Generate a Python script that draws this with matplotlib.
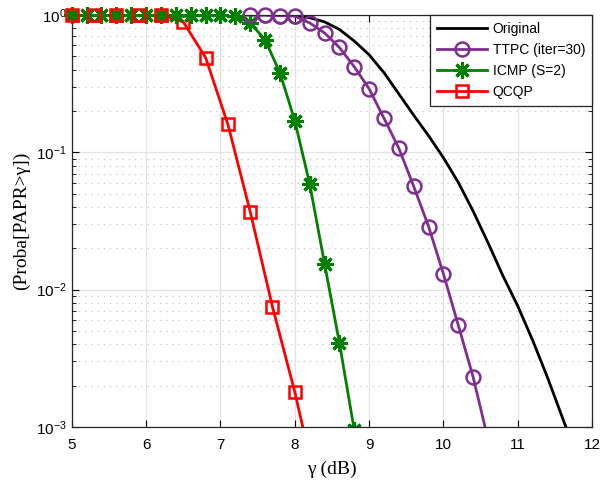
import matplotlib.pyplot as plt
import numpy as np
from matplotlib.ticker import LogLocator, NullLocator, NullFormatter

# data
x_orig = [5.0, 5.5, 6.0, 6.5, 7.0, 7.5, 7.6, 7.8, 8.0, 8.2, 8.4, 8.6, 8.8, 9.0, 9.2, 9.4, 9.6,
          9.8, 10.0, 10.2, 10.4, 10.6, 10.8, 11.0, 11.2, 11.4, 11.6, 11.8]
p_orig = [1.0, 1.0, 1.0, 1.0, 1.0, 1.0, 1.0, 0.9954, 0.9863, 0.955, 0.891, 0.785, 0.646, 0.513,
          0.380, 0.266, 0.186, 0.132, 0.0912, 0.0603, 0.0372, 0.0219, 0.0126, 0.00759, 0.00427,
          0.00229, 0.00117, 0.000603]

x_ttpc = [7.4, 7.6, 7.8, 8.0, 8.2, 8.4, 8.6, 8.8, 9.0, 9.2, 9.4, 9.6, 9.8, 10.0, 10.2, 10.4, 10.6]
p_ttpc = [1.0, 1.0, 0.99, 0.98, 0.875, 0.74, 0.58, 0.42, 0.29, 0.177, 0.107, 0.0565, 0.0288,
          0.013, 0.0055, 0.0023, 0.00081]

x_icmp = [5.0, 5.2, 5.4, 5.6, 5.8, 6.0, 6.2, 6.4, 6.6, 6.8, 7.0, 7.2, 7.4, 7.6, 7.8, 8.0,
          8.2, 8.4, 8.6, 8.8]
p_icmp = [1.0, 1.0, 1.0, 1.0, 1.0, 1.0, 1.0, 1.0, 1.0, 1.0, 0.995, 0.98, 0.875, 0.66, 0.38, 0.17,
          0.059, 0.0155, 0.0041, 0.00095]

x_qcqp = [5.0, 5.3, 5.6, 5.9, 6.2, 6.5, 6.8, 7.1, 7.4, 7.7, 8.0, 8.3]
p_qcqp = [1.0, 1.0, 1.0, 1.0, 1.0, 0.89, 0.49, 0.16, 0.037, 0.0075, 0.0018, 0.00035]

purple = '#7E2F8E'
green = '#008000'

plt.rcParams['font.family'] = ['Liberation Sans', 'DejaVu Sans']
plt.rcParams['mathtext.fontset'] = 'custom'
plt.rcParams['mathtext.rm'] = 'Liberation Sans'

fig = plt.figure(figsize=(6.03, 4.83), dpi=100)
ax = fig.add_axes([0.119, 0.116, 0.863, 0.853])

ax.plot(x_orig, p_orig, color='k', lw=2, label='Original')
ax.plot(x_ttpc, p_ttpc, color=purple, lw=2, marker='o', ms=10, mfc='none', mew=1.8,
        label='TTPC (iter=30)')
ax.plot(x_icmp, p_icmp, color=green, lw=2, marker=(8, 2, 0), ms=12, mew=2.2,
        label='ICMP (S=2)')
ax.plot(x_qcqp, p_qcqp, color='red', lw=2, marker='s', ms=9, mfc='none', mew=1.8,
        label='QCQP')

# markers on the top edge are not clipped
for xs, ps, kw in [(x_ttpc, p_ttpc, dict(marker='o', ms=10, mfc='none', mew=1.8, color=purple)),
                   (x_icmp, p_icmp, dict(marker=(8, 2, 0), ms=12, mew=2.2, color=green)),
                   (x_qcqp, p_qcqp, dict(marker='s', ms=9, mfc='none', mew=1.8, color='red'))]:
    xs = np.array(xs)
    ps = np.array(ps)
    keep = ps >= 0.95
    ax.plot(xs[keep], ps[keep], ls='none', clip_on=False, zorder=3, **kw)

ax.set_yscale('log')
ax.set_xlim(5, 12)
ax.set_ylim(1e-3, 1)
ax.set_xticks(range(5, 13))
ax.xaxis.set_minor_locator(NullLocator())
ax.yaxis.set_minor_locator(LogLocator(base=10, subs=np.arange(2, 10)))
ax.yaxis.set_minor_formatter(NullFormatter())

ax.grid(True, which='major', color='#e3e3e3', lw=0.9, ls='-')
ax.grid(True, which='minor', axis='y', color='#c8c8c8', lw=0.9, ls=(0, (1, 4)))
ax.set_axisbelow(True)

ax.tick_params(which='both', direction='in', top=True, right=True, labelsize=11)
ax.tick_params(which='major', length=5)
ax.tick_params(axis='x', pad=8)
ax.tick_params(which='minor', length=3)
for s in ax.spines.values():
    s.set_color('#262626')
    s.set_linewidth(0.9)

ax.set_xlabel('γ (dB)', fontsize=14, family='Liberation Serif', labelpad=6)
ax.set_ylabel('(Proba[PAPR>γ])', fontsize=14, family='Liberation Serif')

leg = ax.legend(loc='upper right', borderaxespad=0, fancybox=False, framealpha=1,
                edgecolor='#262626', fontsize=10, handlelength=3.6, labelspacing=0.5,
                handletextpad=0.4, borderpad=0.5)
leg.get_frame().set_linewidth(0.9)

fig.savefig('out.png', dpi=100)
